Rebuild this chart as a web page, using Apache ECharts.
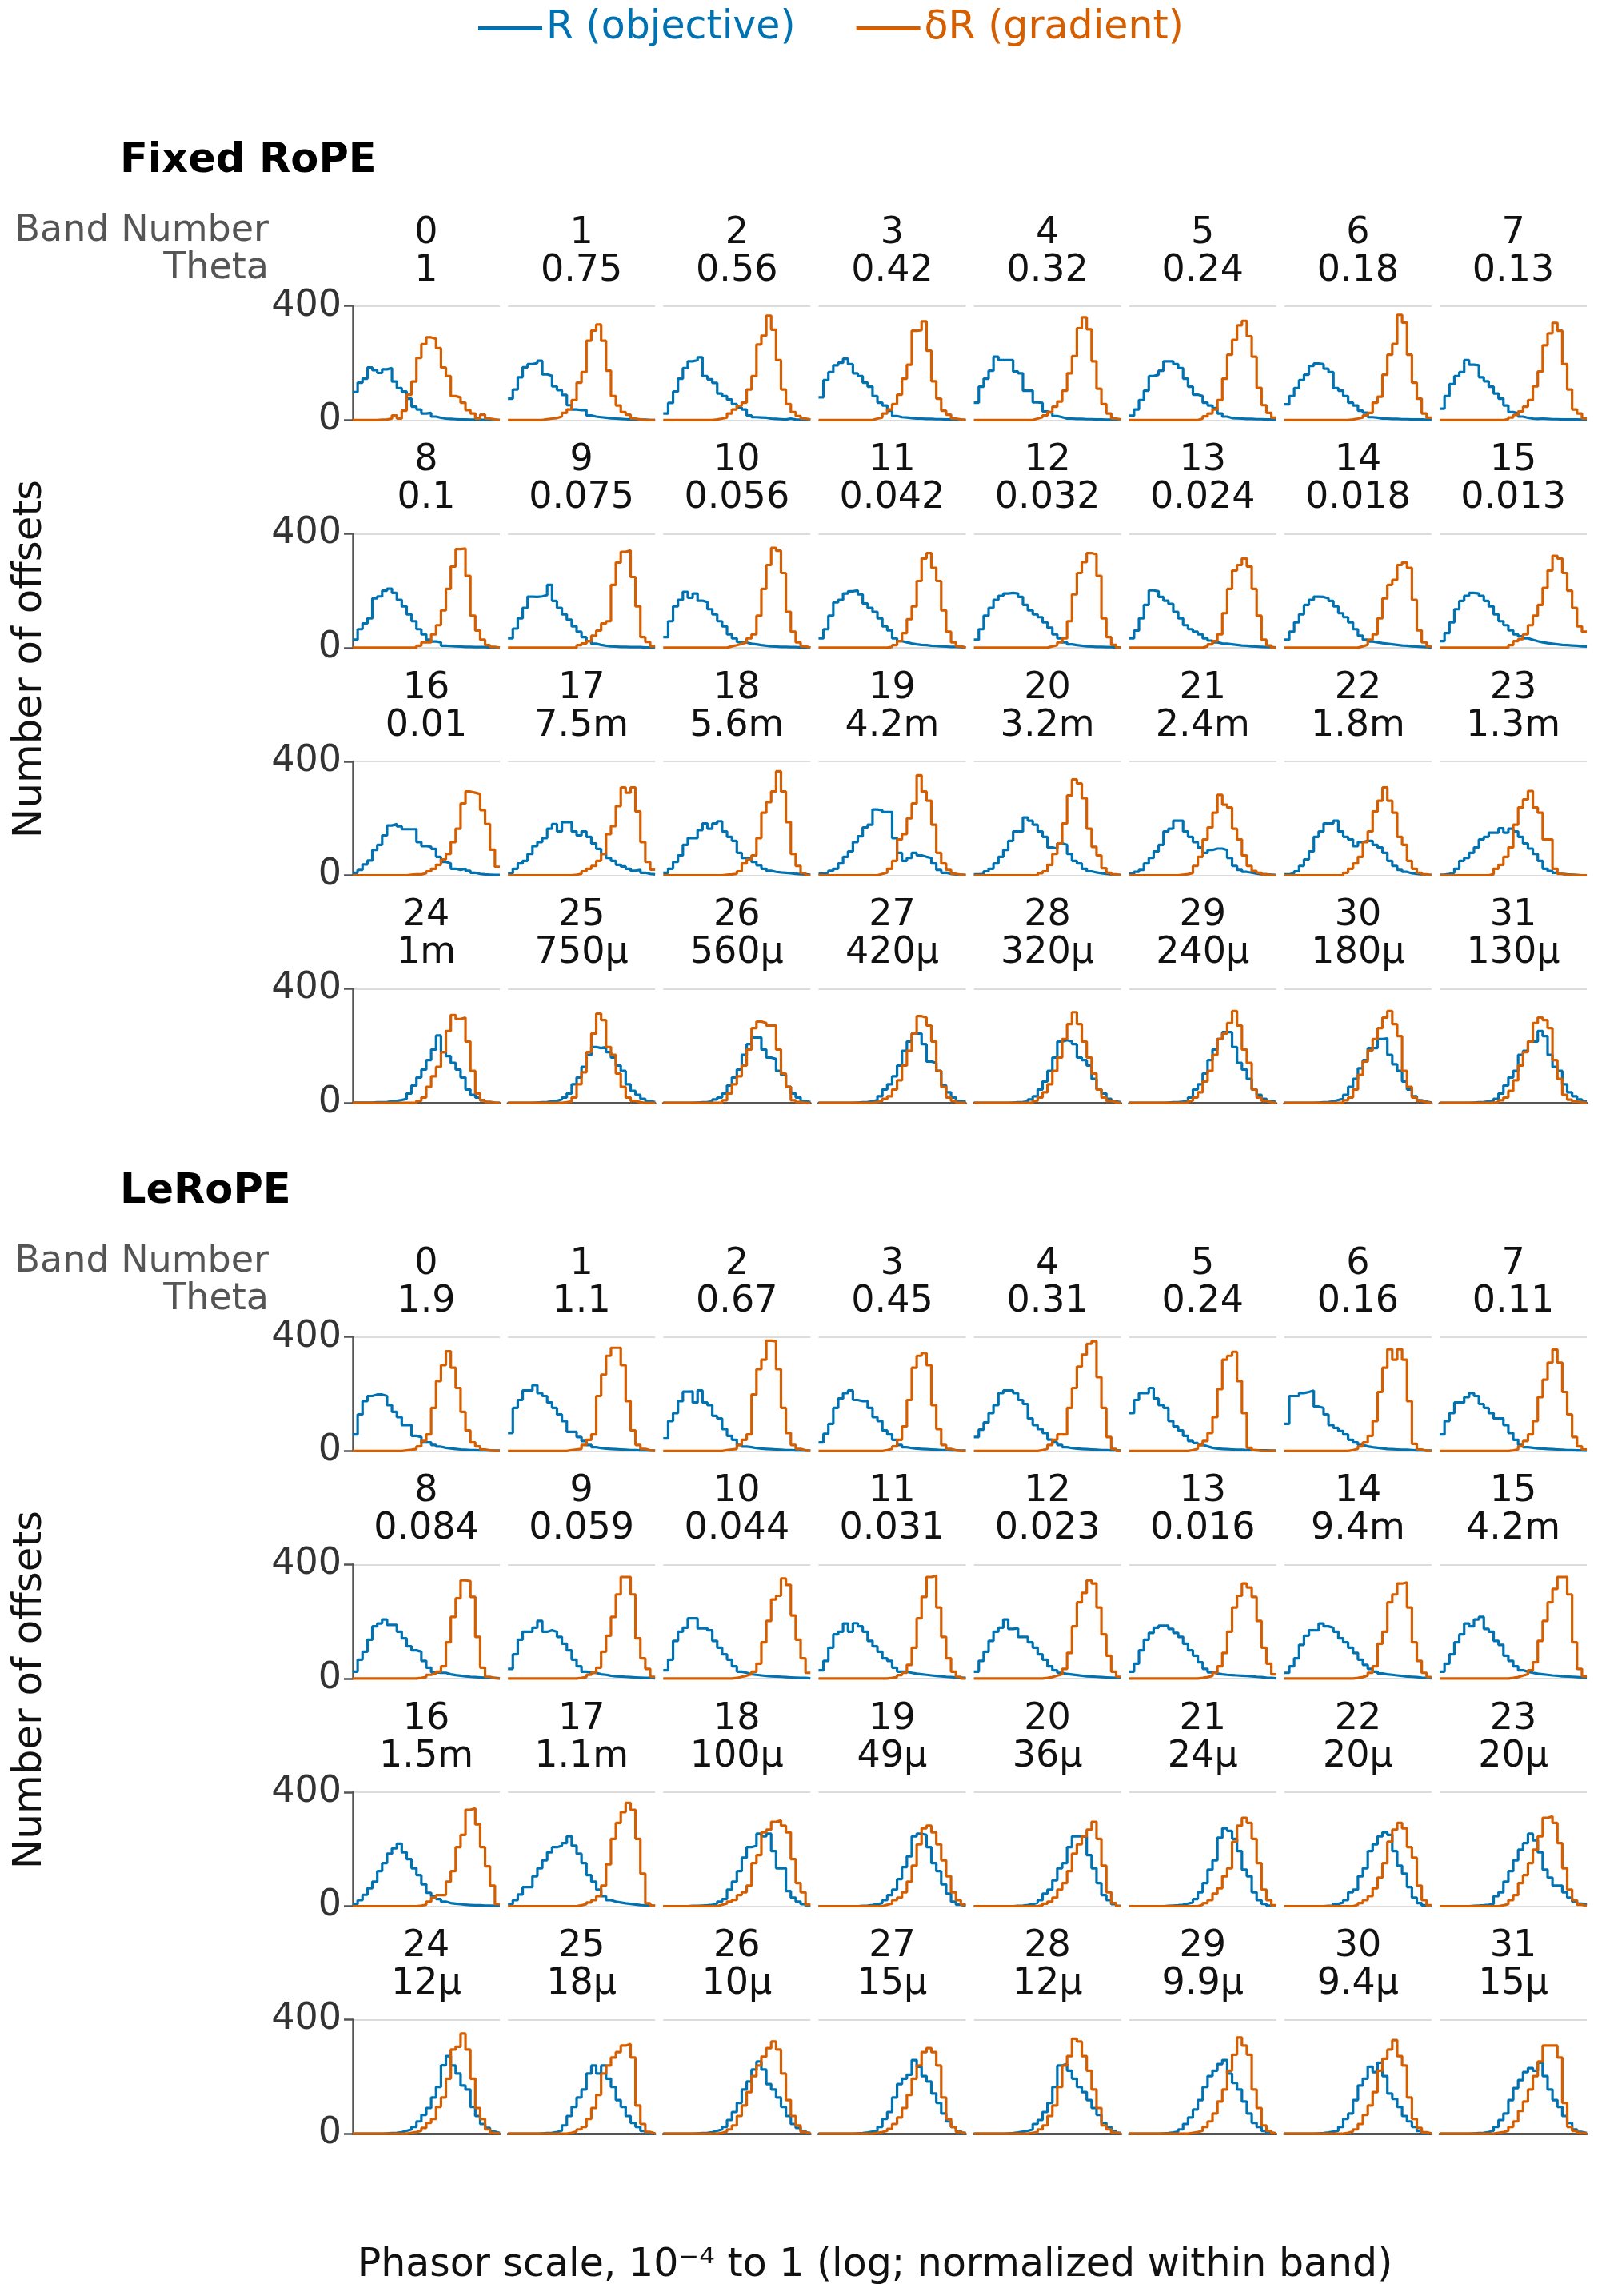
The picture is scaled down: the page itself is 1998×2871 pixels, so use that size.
<!DOCTYPE html>
<html>
<head>
<meta charset="utf-8">
<script src="https://cdn.jsdelivr.net/npm/echarts@6/dist/echarts.min.js"></script>
<style>
  html, body { margin: 0; padding: 0; background: #fff; }
  #main { width: 1998px; height: 2871px; }
</style>
</head>
<body>
<div id="main"></div>
<script>
// histograms: 30 log-spaced bins per band, counts of offsets
var fixedR = [
  [98,131,145,184,175,165,178,182,135,112,100,75,47,37,23,25,12,8,5,4,3,2,2,1,1,1,0,0,0,0],
  [75,107,150,185,196,200,208,160,155,118,105,88,52,37,35,35,16,12,10,8,6,5,4,3,2,2,1,1,0,0],
  [23,60,100,145,182,206,210,220,154,143,130,93,84,72,56,44,37,16,10,9,8,5,4,3,2,5,2,1,1,0],
  [80,140,168,192,201,215,196,164,154,131,117,84,61,51,33,14,10,9,7,5,5,4,4,3,3,2,2,1,1,0],
  [61,117,145,173,222,210,210,210,170,164,103,103,62,60,30,25,14,10,5,5,4,4,3,3,2,2,1,1,1,0],
  [15,37,70,103,154,159,173,206,206,196,182,145,117,89,84,61,51,42,23,12,7,6,5,4,4,3,3,2,2,1],
  [55,84,112,140,159,190,198,196,180,168,112,103,84,61,51,33,26,10,8,5,5,4,4,3,3,2,2,2,1,1],
  [40,84,126,154,168,210,194,192,150,136,117,93,75,51,28,23,12,8,5,4,5,4,3,3,2,2,2,2,1,1],
  [28,65,85,103,173,180,200,207,192,168,145,117,93,65,47,28,22,19,7,6,5,4,3,3,2,2,2,1,1,0],
  [33,67,103,140,179,178,180,185,220,164,140,117,98,75,56,37,23,14,10,7,5,4,3,3,2,2,2,1,1,0],
  [37,93,145,168,196,175,190,165,160,135,117,93,75,47,33,20,18,14,12,9,7,5,4,3,3,2,2,1,1,0],
  [33,65,112,159,168,190,198,201,187,155,140,126,103,75,61,33,23,19,15,12,10,9,7,6,5,4,3,3,2,1],
  [28,65,112,140,168,182,190,192,190,178,150,131,117,107,89,70,47,33,19,12,9,7,5,4,3,3,2,2,1,1],
  [33,60,103,150,201,198,178,165,154,126,103,79,65,56,47,33,25,19,15,14,12,10,8,7,5,4,3,2,2,1],
  [28,56,89,117,150,168,179,178,173,164,145,121,107,89,65,42,28,22,19,16,14,12,10,8,7,5,4,3,2,1],
  [23,51,89,135,164,182,192,190,182,164,145,117,93,79,61,47,40,33,28,23,19,16,14,12,10,9,8,7,5,4],
  [9,19,38,52,89,107,140,175,180,172,162,162,162,117,103,100,93,65,47,42,23,19,23,16,9,5,3,2,1,1],
  [7,23,42,51,75,103,117,131,164,180,154,187,187,154,140,154,135,112,93,75,61,51,37,31,23,16,19,9,5,3],
  [9,23,47,70,107,131,131,159,182,164,182,190,154,135,121,79,61,61,47,35,23,16,12,10,9,7,5,4,3,2],
  [5,10,16,23,42,65,84,117,137,168,178,231,228,222,222,131,79,51,61,79,70,65,61,42,19,9,5,3,2,1],
  [3,5,14,23,42,65,89,121,154,154,203,192,178,154,135,98,94,112,107,75,51,42,23,14,10,7,5,3,2,1],
  [5,12,19,42,61,84,107,154,164,192,192,154,135,117,98,79,89,94,94,89,61,33,19,12,9,6,4,3,2,1],
  [3,8,14,33,56,84,135,154,182,182,192,154,135,126,103,117,121,121,107,98,79,51,33,19,12,7,5,3,2,1],
  [2,5,9,23,51,61,79,98,126,135,150,150,165,150,164,154,135,112,94,75,51,23,15,9,5,3,2,1,0,0],
  [1,1,1,1,2,2,3,5,7,10,14,33,61,89,117,150,187,236,178,164,140,117,89,47,28,19,9,3,1,0],
  [0,0,0,0,0,1,2,3,5,7,12,19,33,65,89,126,168,196,192,196,178,159,131,112,65,42,28,14,7,2],
  [0,0,0,0,0,0,1,2,3,5,12,19,33,61,89,117,168,206,229,229,187,159,154,112,98,56,33,19,7,2],
  [0,0,0,0,0,0,0,1,2,3,5,10,23,47,65,93,131,182,215,243,243,206,145,140,112,61,37,19,7,3],
  [0,0,0,0,0,0,0,1,2,3,5,12,23,47,75,112,159,215,220,215,206,159,150,131,84,47,33,14,5,2],
  [0,0,0,0,0,0,0,1,2,2,4,8,19,47,65,103,150,187,224,248,248,196,140,117,84,47,28,14,7,2],
  [0,0,0,0,0,0,1,2,3,5,10,14,28,56,84,121,150,192,192,224,226,168,135,112,75,47,23,9,4,1],
  [0,0,0,0,0,0,1,2,3,5,7,14,33,61,89,112,168,182,215,215,252,234,168,126,112,65,37,23,12,5]
];
var fixedG = [
  [0,0,0,0,0,1,2,5,16,5,33,89,135,218,266,290,285,252,184,154,84,79,61,35,23,5,19,5,2,0],
  [0,0,0,0,0,0,0,3,5,7,12,25,37,70,131,168,278,314,335,278,173,84,51,28,19,5,2,0,0,0],
  [0,0,0,0,0,0,0,0,0,0,2,5,9,23,37,50,61,107,154,265,296,366,317,210,107,56,28,14,5,2],
  [0,0,0,0,0,0,0,0,0,0,0,5,9,23,37,56,89,145,194,313,315,346,243,136,75,33,19,5,2,0],
  [0,0,0,0,0,0,0,0,0,0,0,0,5,10,16,28,47,65,103,164,224,322,360,318,206,110,56,23,5,2],
  [0,0,0,0,0,0,0,0,0,0,0,0,0,0,5,13,23,37,70,145,229,281,332,348,294,222,113,52,25,8],
  [0,0,0,0,0,0,0,0,0,0,0,0,0,2,5,9,16,25,61,82,159,229,267,369,342,229,131,75,23,8],
  [0,0,0,0,0,0,0,0,0,0,0,0,0,3,9,18,30,47,70,118,170,262,304,341,313,196,107,37,23,5],
  [0,0,0,0,0,0,0,0,0,0,0,0,0,7,19,19,47,79,131,206,285,346,348,252,112,60,28,9,3,0],
  [0,0,0,0,0,0,0,0,0,0,0,0,0,0,9,15,23,42,60,85,93,220,299,336,341,248,145,37,20,5],
  [0,0,0,0,0,0,0,0,0,0,0,0,0,5,9,14,19,33,47,112,206,290,350,340,262,126,56,19,5,0],
  [0,0,0,0,0,0,0,0,0,0,0,0,0,0,3,9,23,51,100,145,234,313,332,280,234,131,56,19,5,0],
  [0,0,0,0,0,0,0,0,0,0,0,0,0,0,0,5,9,19,33,93,187,262,300,332,327,252,103,37,10,0],
  [0,0,0,0,0,0,0,0,0,0,0,0,0,0,0,5,12,23,47,121,206,271,290,313,285,206,112,28,8,0],
  [0,0,0,0,0,0,0,0,0,0,0,0,0,0,0,5,10,28,47,103,173,220,238,290,299,280,168,61,19,5],
  [0,0,0,0,0,0,0,0,0,0,0,0,0,0,9,23,30,47,79,112,150,210,271,322,313,262,200,140,75,56],
  [0,0,0,0,0,0,0,0,0,0,0,2,3,3,7,14,23,37,56,75,117,164,252,294,290,285,229,180,90,30],
  [0,0,0,0,0,0,0,0,0,0,0,0,0,2,5,14,23,33,51,75,145,173,243,308,290,308,224,117,47,20],
  [0,0,0,0,0,0,0,0,0,0,0,0,2,3,5,14,42,56,70,131,220,257,294,365,294,187,75,33,8,0],
  [0,0,0,0,0,0,0,0,0,0,0,0,5,9,23,51,126,145,200,252,351,294,262,178,79,42,19,5,2,0],
  [0,0,0,0,0,0,0,0,0,0,0,0,0,7,14,37,75,112,182,280,336,322,271,164,100,70,25,9,3,0],
  [0,0,0,0,0,0,0,0,0,0,2,4,8,33,65,126,168,220,282,248,238,164,126,70,33,15,9,3,0,0],
  [0,0,0,0,0,0,0,0,0,0,0,0,9,23,42,65,117,154,224,262,308,262,220,135,107,51,23,9,3,0],
  [0,0,0,0,0,0,0,0,0,0,4,23,37,65,98,178,238,266,296,238,220,126,126,23,5,2,1,0,0,0],
  [0,0,0,0,0,0,0,0,0,0,0,0,0,7,19,56,93,126,178,252,308,294,299,215,112,33,9,3,1,0],
  [0,0,0,0,0,0,0,0,0,0,0,2,5,19,65,107,178,243,313,290,196,168,103,56,19,7,2,0,0,0],
  [0,0,0,0,0,0,0,0,0,0,0,0,9,33,65,93,131,187,262,285,280,271,271,187,103,56,9,3,0,0],
  [0,0,0,0,0,0,0,0,0,0,0,3,7,14,23,47,79,131,182,243,304,299,271,215,112,56,19,7,1,0],
  [0,0,0,0,0,0,0,0,0,0,0,0,7,19,37,65,112,159,224,276,318,276,215,159,103,47,19,7,2,0],
  [0,0,0,0,0,0,0,0,0,0,0,0,7,19,37,75,112,168,224,243,280,322,271,187,140,47,19,7,2,0],
  [0,0,0,0,0,0,0,0,0,0,0,0,9,19,47,98,145,184,224,262,299,322,276,234,112,56,19,7,2,0],
  [0,0,0,0,0,0,0,0,0,0,0,3,9,19,42,79,131,178,215,280,299,290,262,150,84,28,11,5,2,0]
];
var leR = [
  [58,128,175,193,198,198,193,161,137,119,91,91,53,49,30,30,21,15,11,9,7,5,4,3,3,2,2,1,1,1],
  [63,151,179,212,212,231,203,193,170,151,128,105,67,67,49,35,21,13,10,8,7,6,5,4,3,3,2,2,1,1],
  [44,105,133,175,208,209,170,212,170,161,123,114,77,53,39,21,15,13,10,8,7,6,5,4,3,3,2,2,1,1],
  [30,60,95,151,184,203,212,179,175,175,151,119,105,72,58,39,21,13,10,8,7,6,5,4,3,3,2,2,1,1],
  [49,75,100,133,161,203,212,212,203,179,165,114,91,77,63,40,30,21,13,10,8,7,6,5,4,3,3,2,2,1],
  [133,179,203,203,221,184,161,151,105,86,72,53,35,28,21,16,11,8,7,6,5,4,4,3,3,2,2,2,1,1],
  [95,193,193,203,207,212,156,151,128,91,81,70,58,39,30,21,16,13,11,9,7,6,5,4,4,3,2,2,1,1],
  [58,105,133,170,170,189,203,193,165,151,133,114,114,91,63,39,21,13,11,9,8,7,6,5,4,3,3,2,2,1],
  [24,66,94,136,183,193,207,188,188,164,141,113,99,94,62,38,22,20,20,15,12,10,8,6,5,4,3,2,2,1],
  [34,85,136,164,164,178,202,164,169,164,146,122,99,66,43,24,20,20,15,13,10,8,7,6,5,4,3,2,2,1],
  [29,66,132,164,178,211,211,176,176,169,132,108,85,66,43,24,20,15,13,11,9,8,7,6,5,4,3,2,2,1],
  [29,62,108,155,164,193,164,194,183,164,132,113,94,71,62,38,24,24,20,17,15,13,11,9,8,6,5,4,3,2],
  [24,62,94,132,164,178,207,174,176,146,146,127,108,85,66,43,29,20,16,14,12,10,8,7,6,5,4,3,2,2],
  [24,52,99,136,160,178,185,185,174,160,146,122,99,80,57,34,22,18,15,13,12,11,10,9,8,6,5,3,2,1],
  [20,43,71,118,150,169,169,193,183,178,164,141,127,108,90,66,48,34,24,18,15,13,11,9,7,6,5,3,2,1],
  [24,52,85,127,155,193,183,207,216,174,164,132,118,80,62,43,29,24,20,17,15,13,11,10,8,7,6,5,4,3],
  [7,21,40,63,86,123,151,184,203,219,189,165,133,109,77,47,35,25,16,11,9,7,5,4,3,3,2,2,1,1],
  [7,21,41,67,67,105,133,161,189,207,212,221,245,212,184,151,109,86,58,35,21,16,13,10,8,6,4,3,2,1],
  [0,0,0,0,0,1,1,2,3,5,9,16,25,58,86,123,170,207,212,254,245,254,193,133,133,53,30,16,7,1],
  [0,0,0,0,0,0,0,0,1,2,4,7,11,21,39,58,95,137,175,245,254,250,207,151,123,77,44,16,5,1],
  [0,0,0,0,0,0,0,0,1,2,4,7,12,21,44,58,91,133,151,207,245,245,245,179,133,81,39,21,7,1],
  [0,0,0,0,0,0,0,1,2,3,5,9,13,25,49,81,128,161,240,273,264,236,193,128,105,49,21,8,2,0],
  [0,0,0,0,0,0,0,0,1,2,8,13,21,49,58,105,133,193,217,245,259,250,193,142,114,67,30,11,3,1],
  [0,0,0,0,0,0,1,2,3,5,8,35,49,86,123,161,198,221,254,231,189,128,100,72,72,49,30,16,9,5],
  [0,0,0,0,0,0,1,2,3,5,10,15,24,43,66,90,127,164,240,272,239,211,169,155,94,62,34,20,7,2],
  [0,0,0,0,0,0,1,2,3,6,10,29,62,94,127,155,211,239,211,239,193,164,118,94,62,38,24,10,3,1],
  [0,0,0,0,0,0,1,2,3,5,10,15,24,48,76,108,155,183,225,253,225,174,155,127,94,62,34,20,10,3],
  [0,0,0,0,0,0,0,1,2,4,7,10,24,52,76,127,174,193,207,258,235,202,183,141,108,71,43,24,10,3],
  [0,0,0,0,0,0,1,2,4,7,10,15,34,48,76,108,164,239,244,221,193,164,146,118,90,66,38,24,10,3],
  [0,0,0,0,0,0,1,2,4,7,15,34,57,85,118,164,202,221,244,258,211,178,155,113,71,38,24,10,4,1],
  [0,0,0,0,0,0,1,2,4,7,10,24,52,71,118,169,193,235,216,249,202,141,122,94,62,43,24,10,3,1],
  [0,0,0,0,0,0,1,2,3,6,10,24,48,71,118,160,188,216,230,221,249,202,155,118,94,62,38,15,6,2]
];
var leG = [
  [0,0,0,0,0,0,0,0,0,0,2,4,7,16,35,58,151,245,301,350,292,221,137,72,30,16,5,2,0,0],
  [0,0,0,0,0,0,0,0,0,0,0,0,3,5,7,21,39,58,193,268,334,362,362,301,175,72,21,7,2,0],
  [0,0,0,0,0,0,0,0,0,0,0,0,3,5,7,21,39,58,198,287,320,387,385,287,151,63,21,7,2,0],
  [0,0,0,0,0,0,0,0,0,0,0,0,0,3,7,16,39,86,179,292,334,343,301,161,77,21,7,2,0,0],
  [0,0,0,0,0,0,0,0,0,0,0,0,0,3,7,21,39,58,58,151,221,296,338,376,385,259,151,49,7,0],
  [0,0,0,0,0,0,0,0,0,0,0,0,3,7,21,35,63,119,217,320,334,348,245,133,11,3,0,0,0,0],
  [0,0,0,0,0,0,0,0,0,0,0,0,0,3,7,16,30,53,105,207,292,357,320,357,320,175,25,5,0,0],
  [0,0,0,0,0,0,0,0,0,0,0,0,0,0,2,5,16,35,58,105,189,250,310,356,310,207,128,49,16,5],
  [0,0,0,0,0,0,0,0,0,0,0,0,0,2,5,13,18,24,43,127,216,281,344,342,286,146,38,6,1,0],
  [0,0,0,0,0,0,0,0,0,0,0,0,0,0,2,5,13,20,38,94,150,216,295,356,356,295,141,71,34,6],
  [0,0,0,0,0,0,0,0,0,0,0,0,0,0,2,6,10,15,24,52,127,202,277,290,351,328,221,136,71,20],
  [0,0,0,0,0,0,0,0,0,0,0,0,0,0,2,5,12,20,48,108,211,286,356,360,249,146,71,24,6,0],
  [0,0,0,0,0,0,0,0,0,0,0,0,0,0,2,5,10,15,34,90,183,267,300,344,333,249,155,80,24,6],
  [0,0,0,0,0,0,0,0,0,0,0,0,0,0,2,5,9,20,43,90,164,249,290,333,319,286,202,108,52,15],
  [0,0,0,0,0,0,0,0,0,0,0,0,0,0,2,5,10,20,43,122,164,267,295,333,337,249,127,62,20,5],
  [0,0,0,0,0,0,0,0,0,0,0,0,0,0,2,5,10,15,29,57,132,202,267,314,356,356,295,127,34,8],
  [0,0,0,0,0,0,0,0,0,0,0,0,0,2,5,16,30,39,39,86,123,207,250,338,343,287,207,140,72,7],
  [0,0,0,0,0,0,0,0,0,0,0,0,0,0,3,7,13,21,35,72,147,236,292,330,362,338,236,114,10,2],
  [0,0,0,0,0,0,0,0,0,0,0,5,9,16,22,39,49,72,151,179,259,268,296,301,282,259,165,81,49,5],
  [0,0,0,0,0,0,0,0,0,0,0,0,0,5,9,21,30,49,86,142,217,273,282,259,217,161,105,49,21,5],
  [0,0,0,0,0,0,0,0,0,0,0,0,0,3,9,16,30,58,81,123,184,217,245,268,296,236,142,49,11,0],
  [0,0,0,0,0,0,0,0,0,0,0,0,0,0,5,11,21,44,63,105,133,226,282,310,292,236,151,58,21,3],
  [0,0,0,0,0,0,0,0,0,0,0,0,0,0,5,11,21,35,63,100,151,226,268,292,273,207,170,72,21,3],
  [0,0,0,0,0,0,0,0,0,0,0,0,3,7,21,39,81,109,151,198,245,310,315,292,221,133,58,21,5,1],
  [0,0,0,0,0,0,0,0,0,0,0,3,6,10,20,38,52,94,127,193,295,305,351,295,193,90,52,15,3,0],
  [0,0,0,0,0,0,0,0,0,0,0,0,3,8,15,24,52,90,136,211,239,267,286,309,314,267,99,34,6,1],
  [0,0,0,0,0,0,0,0,0,0,0,3,8,15,29,62,99,146,202,239,270,300,323,295,211,118,62,29,6,1],
  [0,0,0,0,0,0,0,0,0,0,0,3,6,10,17,34,57,90,136,193,239,286,300,286,239,127,52,24,6,1],
  [0,0,0,0,0,0,0,0,0,0,0,3,6,15,29,62,99,164,239,272,333,323,272,221,155,90,29,15,4,1],
  [0,0,0,0,0,0,0,0,0,0,0,0,3,6,10,24,43,71,113,155,221,277,337,309,277,155,90,29,10,2],
  [0,0,0,0,0,0,0,0,0,0,0,0,3,8,15,34,66,99,146,221,263,295,328,272,239,127,52,20,5,1],
  [0,0,0,0,0,0,0,0,0,0,0,3,6,10,24,43,80,113,155,202,253,309,309,309,267,108,24,10,3,1]
];
var fixedTheta = ['1','0.75','0.56','0.42','0.32','0.24','0.18','0.13',
  '0.1','0.075','0.056','0.042','0.032','0.024','0.018','0.013',
  '0.01','7.5m','5.6m','4.2m','3.2m','2.4m','1.8m','1.3m',
  '1m','750µ','560µ','420µ','320µ','240µ','180µ','130µ'];
var leTheta = ['1.9','1.1','0.67','0.45','0.31','0.24','0.16','0.11',
  '0.084','0.059','0.044','0.031','0.023','0.016','9.4m','4.2m',
  '1.5m','1.1m','100µ','49µ','36µ','24µ','20µ','20µ',
  '12µ','18µ','10µ','15µ','12µ','9.9µ','9.4µ','15µ'];
var yTicks = [0, 400];

var BLUE = '#0072B2', ORANGE = '#D55E00';
var FONT = '"DejaVu Sans", sans-serif';
var NAME_R = 'R (objective)', NAME_G = 'δR (gradient)';

var chart = echarts.init(document.getElementById('main'), null, {renderer: 'canvas'});

// layout (px)
var colX0 = 441, colStep = 194.15, plotW = 184, plotH = 142.6, rowStep = 284.6;
var panels = [
  {title: 'Fixed RoPE', R: fixedR, G: fixedG, theta: fixedTheta, top: 382.7},
  {title: 'LeRoPE', R: leR, G: leG, theta: leTheta, top: 1671.7}
];

function stairs(vals){
  var pts = vals.map(function(v, i){ return [i, v]; });
  pts.push([vals.length, vals[vals.length - 1]]);
  return pts;
}

function txt(x, y, s, size, color, align, weight, rot){
  return {
    type: 'text', x: x, y: y, rotation: rot || 0, silent: true,
    style: {
      text: s, fill: color, font: (weight || 'normal') + ' ' + size + 'px ' + FONT,
      align: align || 'center', verticalAlign: 'middle',
      textAlign: align || 'center', textVerticalAlign: 'middle'
    }
  };
}

var grids = [], xAxes = [], yAxes = [], series = [], graphics = [];
panels.forEach(function(p){
  var off = p.top - 382.7;
  graphics.push(txt(150, 202 + off, p.title, 51, '#000', 'left', 'bold'));
  graphics.push(txt(336, 289 + off, 'Band Number', 46, '#555', 'right'));
  graphics.push(txt(336, 336 + off, 'Theta', 46, '#555', 'right'));
  graphics.push(txt(38, 824 + off, 'Number of offsets', 50, '#111', 'center', 'normal', Math.PI / 2));
  for (var b = 0; b < 32; b++){
    var row = Math.floor(b / 8), col = b % 8;
    var left = colX0 + col * colStep, top = p.top + row * rowStep;
    var gi = grids.length;
    grids.push({left: left, top: top, width: plotW, height: plotH});
    xAxes.push({
      gridIndex: gi, type: 'value', min: 0, max: 30,
      axisLine: {show: row === 3, onZero: false, lineStyle: {color: '#555', width: 3}},
      axisTick: {show: false}, axisLabel: {show: false}, splitLine: {show: false}
    });
    yAxes.push({
      gridIndex: gi, type: 'value', min: yTicks[0], max: yTicks[1], interval: yTicks[1] - yTicks[0],
      axisLine: {show: col === 0, lineStyle: {color: '#555', width: 2.5}},
      axisTick: {show: col === 0, length: 11, lineStyle: {color: '#555', width: 2.5}},
      axisLabel: {show: col === 0, fontSize: 46, color: '#333', fontFamily: FONT, margin: 14},
      splitLine: {show: true, lineStyle: {color: '#dcdcdc', width: 2}}
    });
    series.push({
      type: 'line', name: NAME_R, xAxisIndex: gi, yAxisIndex: gi, step: 'end',
      data: stairs(p.R[b]), symbol: 'none', clip: false, silent: true, z: 3,
      lineStyle: {color: BLUE, width: 3.2}, itemStyle: {color: BLUE}
    });
    series.push({
      type: 'line', name: NAME_G, xAxisIndex: gi, yAxisIndex: gi, step: 'end',
      data: stairs(p.G[b]), symbol: 'none', clip: false, silent: true, z: 4,
      lineStyle: {color: ORANGE, width: 3.2}, itemStyle: {color: ORANGE}
    });
    var cx = left + plotW / 2;
    graphics.push(txt(cx, top - 91, String(b), 46, '#111'));
    graphics.push(txt(cx, top - 44, p.theta[b], 46, '#111'));
  }
});
graphics.push(txt(1094, 2833, 'Phasor scale, 10⁻⁴ to 1 (log; normalized within band)', 49, '#111'));

var option = {
  animation: false,
  backgroundColor: '#fff',
  legend: {
    left: 593, top: 6, icon: 'rect', itemWidth: 80, itemHeight: 5, itemGap: 76,
    selectedMode: false,
    textStyle: {fontSize: 49, fontFamily: FONT},
    data: [
      {name: NAME_R, textStyle: {color: BLUE}},
      {name: NAME_G, textStyle: {color: ORANGE}}
    ]
  },
  grid: grids,
  xAxis: xAxes,
  yAxis: yAxes,
  series: series,
  graphic: {elements: graphics}
};
chart.setOption(option);
</script>
</body>
</html>
